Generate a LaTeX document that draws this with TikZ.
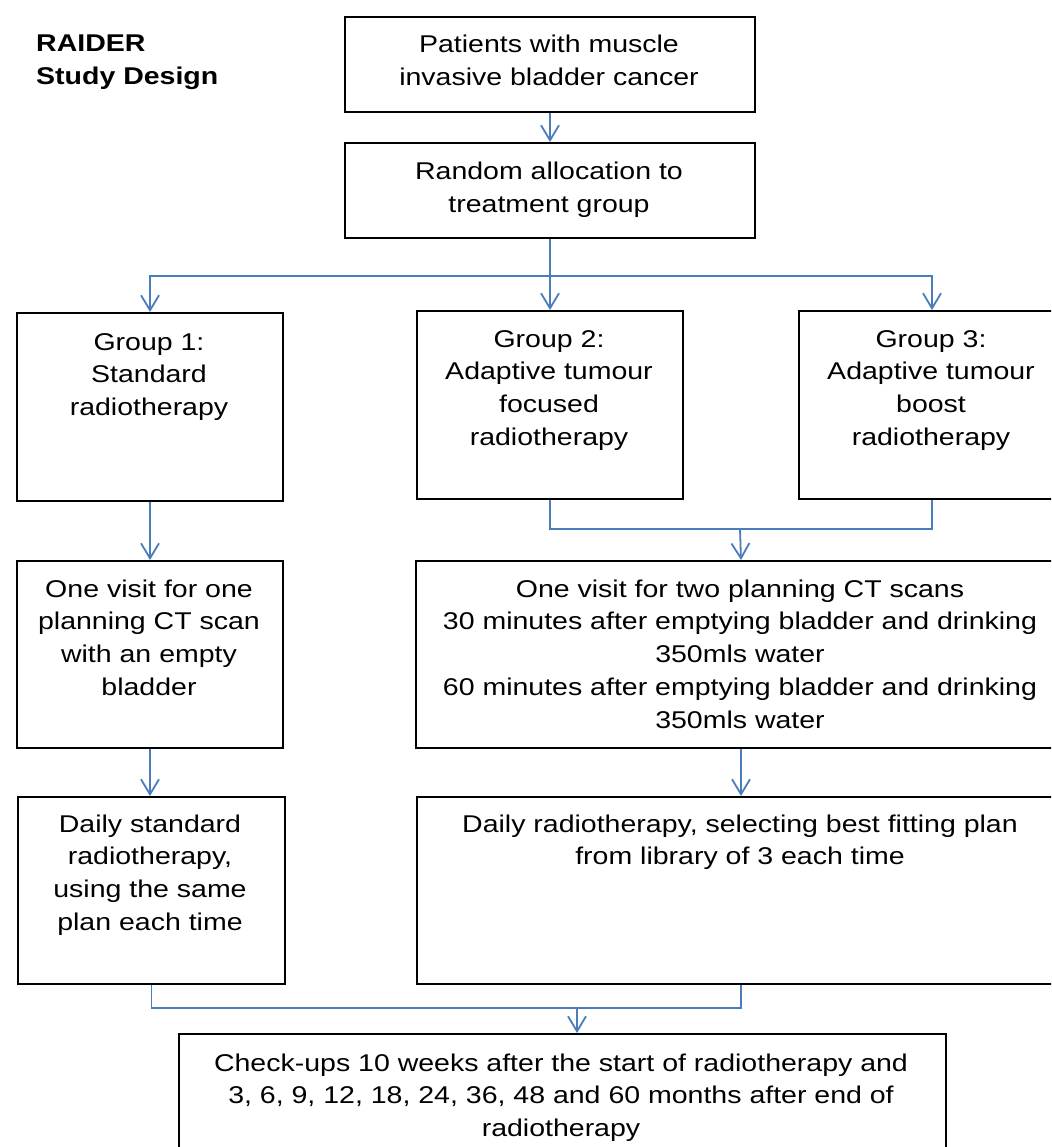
\documentclass[tikz,border=0pt]{standalone}
\usepackage{fontspec}
\setmainfont{Liberation Sans}
\usepackage{graphicx}
\usetikzlibrary{arrows.meta}
\definecolor{connblue}{HTML}{4A7EBB}
\newcommand{\ctext}[1]{\scalebox{1}[0.85]{\fontsize{28.5}{38.8}\selectfont\begin{tabular}[t]{@{}c@{}}#1\end{tabular}}}
\newcommand{\ltext}[1]{\scalebox{1}[0.85]{\fontsize{28.5}{38.8}\selectfont\bfseries\begin{tabular}[t]{@{}l@{}}#1\end{tabular}}}
\begin{document}
\begin{tikzpicture}[x=1pt,y=-1pt,
  box/.style={draw=black, line width=2pt, rectangle, inner sep=0pt, anchor=north west},
  txt/.style={inner sep=0pt, anchor=base},
  conn/.style={draw=connblue, line width=1.8pt},
  arr/.style={conn, -{Straight Barb[length=15pt,width=18pt,line width=1.8pt]}}]
\useasboundingbox (0,0) rectangle (1051,1147);
\clip (0,0) rectangle (1051,1147);
\fill[white] (0,0) rectangle (1051,1147);

% title
\node[inner sep=0pt, anchor=base west] (title) at (36,52) {\ltext{RAIDER\\Study Design}};

% boxes
\node[box, minimum width=410pt, minimum height=95pt] (top) at (344,16) {};
\node[box, minimum width=410pt, minimum height=95pt] (rand) at (344,142) {};
\node[box, minimum width=266pt, minimum height=188pt] (g1) at (16,312) {};
\node[box, minimum width=266pt, minimum height=188pt] (g2) at (416,310) {};
\node[box, minimum width=266pt, minimum height=188pt] (g3) at (798,310) {};
\node[box, minimum width=266pt, minimum height=187pt] (v1) at (16,560) {};
\node[box, minimum width=650pt, minimum height=187pt] (v2) at (415,560) {};
\node[box, minimum width=267pt, minimum height=187pt] (d1) at (17,796) {};
\node[box, minimum width=648pt, minimum height=187pt] (d2) at (416,796) {};
\node[box, minimum width=767pt, minimum height=140pt] (fin) at (178,1033) {};

% texts
\node[txt] (topt) at (549,53) {\ctext{Patients with muscle\\invasive bladder cancer}};
\node[txt] (randt) at (549,180) {\ctext{Random allocation to\\treatment group}};
\node[txt] (g1t) at (149,350) {\ctext{Group 1:\\Standard\\radiotherapy}};
\node[txt] (g2t) at (549,347) {\ctext{Group 2:\\Adaptive tumour\\focused\\radiotherapy}};
\node[txt] (g3t) at (931,347) {\ctext{Group 3:\\Adaptive tumour\\boost\\radiotherapy}};
\node[txt] (v1t) at (149,597) {\ctext{One visit for one\\planning CT scan\\with an empty\\bladder}};
\node[txt] (v2t) at (740,597) {\ctext{One visit for two planning CT scans\\30 minutes after emptying bladder and drinking\\350mls water\\60 minutes after emptying bladder and drinking\\350mls water}};
\node[txt] (d1t) at (150,832) {\ctext{Daily standard\\radiotherapy,\\using the same\\plan each time}};
\node[txt] (d2t) at (740,832) {\ctext{Daily radiotherapy, selecting best fitting plan\\from library of 3 each time}};
\node[txt] (fint) at (561,1071) {\ctext{Check-ups 10 weeks after the start of radiotherapy and\\3, 6, 9, 12, 18, 24, 36, 48 and 60 months after end of\\radiotherapy}};

% connectors
\draw[arr] (top.south) -- (rand.north);
\draw[conn] (rand.south) -- ++(0,37) coordinate (split);
\draw[arr] (split) -| (g1.north);
\draw[arr] (split) -| (g3.north);
\draw[arr] (split) -- (split |- g2.north);
\coordinate (m1) at (740,529);
\draw[conn] (g2.south) |- (m1) -| (g3.south);
\draw[arr] (m1) -- (v2.north);
\draw[arr] (g1.south) -- (g1.south |- v1.north);
\draw[arr] (v1.south) -- (v1.south |- d1.north);
\draw[arr] (v2.south) -- (v2.south |- d2.north);
\coordinate (m2) at (577,1008);
\draw[conn] (d1.south) |- (m2) -| (d2.south);
\draw[arr] (m2) -- (m2 |- fin.north);
\end{tikzpicture}
\end{document}
